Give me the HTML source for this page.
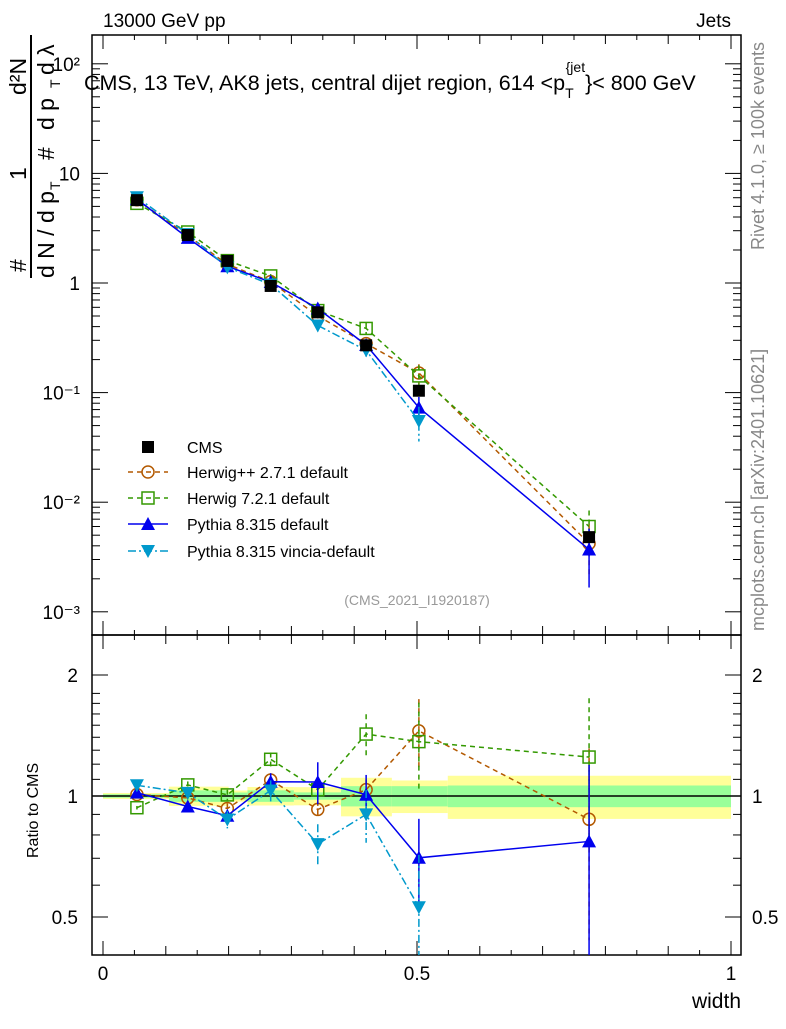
<!DOCTYPE html>
<html><head><meta charset="utf-8"><style>
body{margin:0;background:#fff;width:786px;height:1024px;overflow:hidden}
svg text{font-family:"Liberation Sans",sans-serif}
</style></head><body>
<svg id="c" width="786" height="1024" xmlns="http://www.w3.org/2000/svg">
<defs>
<clipPath id="cm"><rect x="92" y="35" width="649" height="600"/></clipPath>
<clipPath id="cr"><rect x="92" y="635" width="649" height="320"/></clipPath>
</defs>
<g id="bands" clip-path="url(#cr)"></g>
<g id="frames"></g>
<g id="series"></g>
<g id="labels"></g>
<text x="84" y="90" font-size="21.5">CMS, 13 TeV, AK8 jets, central dijet region, 614 &lt;p<tspan font-size="14" dy="8">T</tspan><tspan font-size="14" dy="-26" dx="-8">{jet</tspan><tspan dy="18">}&lt; 800 GeV</tspan></text>
<g font-size="23">
<text transform="translate(26,272) rotate(-90)">#</text>
<text transform="translate(26,180) rotate(-90)">1</text>
<line x1="31" x2="31" y1="35" y2="278" stroke="#000" stroke-width="2"/>
<text transform="translate(54,278) rotate(-90)">d N / d p</text>
<text transform="translate(60,190) rotate(-90)" font-size="14">T</text>
<text transform="translate(54,160) rotate(-90)">#</text>
<text transform="translate(26,95) rotate(-90)">d²N</text>
<text transform="translate(54,130) rotate(-90)">d p</text>
<text transform="translate(60,88) rotate(-90)" font-size="14">T</text>
<text transform="translate(54,75) rotate(-90)">d λ</text>
</g>
</svg>
<script>
// data
const xs = [0.054, 0.135, 0.198, 0.267, 0.342, 0.419, 0.503, 0.774];
const cms = [5.7, 2.74, 1.59, 0.94, 0.54, 0.27, 0.104, 0.0048];
const cmsErr = [0.01, 0.01, 0.01, 0.02, 0.03, 0.04, 0.05, 0.1];
const hpp = [5.75, 2.71, 1.48, 1.03, 0.50, 0.28, 0.151, 0.0042];
const hppErr = [0.01, 0.02, 0.03, 0.03, 0.05, 0.06, 0.2, 0.5];
const h7 = [5.33, 2.92, 1.60, 1.16, 0.56, 0.385, 0.142, 0.006];
const h7Err = [0.01, 0.02, 0.03, 0.04, 0.05, 0.12, 0.25, 0.4];
const py = [5.81, 2.58, 1.42, 1.02, 0.585, 0.272, 0.073, 0.0037];
const pyErr = [0.01, 0.03, 0.03, 0.05, 0.12, 0.12, 0.25, 0.55];
const vin = [6.06, 2.79, 1.39, 0.97, 0.41, 0.243, 0.055];
const vinErr = [0.01, 0.02, 0.05, 0.06, 0.12, 0.15, 0.35];
const bandEdges = [0, 0.105, 0.2, 0.23, 0.304, 0.379, 0.46, 0.549, 1.0];
const bandYellow = [0.017, 0.055, 0.032, 0.053, 0.052, 0.11, 0.093, 0.123];
const bandGreen = [0.01, 0.033, 0.02, 0.033, 0.021, 0.058, 0.058, 0.062];
const mainTicks = [100, 10, 1, 0.1, 0.01, 0.001];
const mainTickLabels = ["10²", "10", "1", "10⁻¹", "10⁻²", "10⁻³"];
const ratioTicks = [0.5, 1, 2];
const xTicks = [0, 0.5, 1];

const NS = "http://www.w3.org/2000/svg";
const X = v => 103 + v * 628;
const YM = v => 283 - Math.log10(v) * 109.6;
const YR = v => 796 - Math.log2(v) * 121;
function mk(tag, attrs, parent, txt) {
  const e = document.createElementNS(NS, tag);
  for (const k in attrs) e.setAttribute(k, attrs[k]);
  if (txt !== undefined) e.textContent = txt;
  parent.appendChild(e);
  return e;
}
const G = id => document.getElementById(id);

// bands
const gb = G('bands');
for (let i = 0; i < bandYellow.length; i++) {
  const x0 = X(bandEdges[i]), x1 = X(bandEdges[i + 1]);
  let r = mk('rect', {x: x0, y: YR(1 + bandYellow[i]), width: x1 - x0, height: YR(1 - bandYellow[i]) - YR(1 + bandYellow[i]), fill: '#ffff99'}, gb);
  
  
  r = mk('rect', {x: x0, y: YR(1 + bandGreen[i]), width: x1 - x0, height: YR(1 - bandGreen[i]) - YR(1 + bandGreen[i]), fill: '#99ff99'}, gb);
  
  
}
let ln = mk('line', {x1: 92, x2: 741, y1: YR(1), y2: YR(1), stroke: '#000', 'stroke-width': 1.5}, gb);



// frames + ticks
const gf = G('frames');
for (const [y0, y1, nm] of [[35, 635, 'main-plot-frame'], [635, 955, 'ratio-plot-frame']]) {
  const f = mk('rect', {x: 92, y: y0, width: 649, height: y1 - y0, fill: 'none', stroke: '#000', 'stroke-width': 1.5}, gf);
  
  
  for (let k = 0; k <= 20; k++) {
    const v = k * 0.05, len = (k % 10 === 0) ? 14 : (k % 2 === 0 ? 9 : 5);
    mk('line', {x1: X(v), x2: X(v), y1: y1, y2: y1 - len, stroke: '#000'}, gf);
    mk('line', {x1: X(v), x2: X(v), y1: y0, y2: y0 + len, stroke: '#000'}, gf);
  }
}
for (let d = -3; d <= 2; d++) {
  for (let m = 1; m <= 9; m++) {
    const v = m * Math.pow(10, d), y = YM(v);
    if (y < 35 || y > 635) continue;
    const len = m === 1 ? 16 : 8;
    mk('line', {x1: 92, x2: 92 + len, y1: y, y2: y, stroke: '#000'}, gf);
    mk('line', {x1: 741, x2: 741 - len, y1: y, y2: y, stroke: '#000'}, gf);
  }
}
for (const v of [0.4, 0.5, 0.6, 0.7, 0.8, 0.9, 1, 2, 3]) {
  const y = YR(v);
  if (y < 635 || y > 955) continue;
  const len = ratioTicks.includes(v) ? 16 : 8;
  mk('line', {x1: 92, x2: 92 + len, y1: y, y2: y, stroke: '#000'}, gf);
  mk('line', {x1: 741, x2: 741 - len, y1: y, y2: y, stroke: '#000'}, gf);
}
for (let k = 1; k <= 8; k++) {
  const v = 1 + k * 0.1;
  const y = YR(v);
  mk('line', {x1: 92, x2: 100, y1: y, y2: y, stroke: '#000'}, gf);
  mk('line', {x1: 741, x2: 733, y1: y, y2: y, stroke: '#000'}, gf);
}

// labels
const gl = G('labels');
function lab(x, y, t, nm, opts) {
  const e = mk('text', Object.assign({x: x, y: y, 'font-size': 19, fill: '#000'}, opts || {}), gl, t);
  
  
  return e;
}
mainTicks.forEach((v, i) => lab(80, YM(v) + 7, mainTickLabels[i], 'y-tick-label', {'text-anchor': 'end'}));
ratioTicks.forEach(v => {
  lab(78, YR(v) + 7, String(v), 'ratio-y-tick-label', {'text-anchor': 'end'});
  lab(752, YR(v) + 7, String(v), 'ratio-y-tick-label-right');
});
xTicks.forEach(v => lab(X(v), 980, String(v), 'x-tick-label', {'text-anchor': 'middle'}));
lab(741, 1008, 'width', 'x-axis-title', {'text-anchor': 'end', 'font-size': 21});
lab(103, 27, '13000 GeV pp', 'header-left');
lab(731, 27, 'Jets', 'header-right', {'text-anchor': 'end'});
lab(417, 605, '(CMS_2021_I1920187)', 'analysis-id', {'text-anchor': 'middle', 'font-size': 14, fill: '#999'});
lab(0, 0, 'Rivet 4.1.0, ≥ 100k events', 'rivet-version', {transform: 'translate(764,250) rotate(-90)', 'font-size': 18, fill: '#888'});
lab(0, 0, 'mcplots.cern.ch [arXiv:2401.10621]', 'mcplots-credit', {transform: 'translate(764,631) rotate(-90)', 'font-size': 18, fill: '#888'});
lab(0, 0, 'Ratio to CMS', 'ratio-y-axis-title', {transform: 'translate(38,858) rotate(-90)', 'font-size': 16});

// series
const gs = G('series');
function marker(g, type, x, y, col) {
  const s = 6;
  if (type === 'sq') mk('rect', {x: x - s, y: y - s, width: 2 * s, height: 2 * s, fill: '#000'}, g);
  if (type === 'osq') mk('rect', {x: x - s, y: y - s, width: 2 * s, height: 2 * s, fill: 'none', stroke: col, 'stroke-width': 1.5}, g);
  if (type === 'oc') mk('circle', {cx: x, cy: y, r: s, fill: 'none', stroke: col, 'stroke-width': 1.5}, g);
  if (type === 'tu') mk('polygon', {points: `${x},${y - 7} ${x - 7},${y + 6} ${x + 7},${y + 6}`, fill: col}, g);
  if (type === 'td') mk('polygon', {points: `${x},${y + 7} ${x - 7},${y - 6} ${x + 7},${y - 6}`, fill: col}, g);
}
function drawSeries(name, vals, errs, col, dash, mtype) {
  for (const [Yf, clip, sfx] of [[YM, 'cm', 'main'], [YR, 'cr', 'ratio']]) {
    const g = mk('g', {'clip-path': `url(#${clip})`}, gs);
    
    
    const v = vals.map((d, i) => sfx === 'main' ? d : d / cms[i]);
    const pts = v.map((d, i) => `${X(xs[i])},${Yf(d)}`).join(' ');
    mk('polyline', {points: pts, fill: 'none', stroke: col, 'stroke-width': 1.5, 'stroke-dasharray': dash}, g);
    v.forEach((d, i) => {
      const x = X(xs[i]);
      const lo = Math.max(d * (1 - errs[i]), d * 0.001);
      mk('line', {x1: x, x2: x, y1: Yf(d * (1 + errs[i])), y2: Yf(lo), stroke: col, 'stroke-width': 1.5, 'stroke-dasharray': dash}, g);
      marker(g, mtype, x, Yf(d), col);
    });
  }
}
drawSeries('herwigpp-series', hpp, hppErr, '#b35900', '5,4', 'oc');
drawSeries('herwig7-series', h7, h7Err, '#339900', '5,4', 'osq');
drawSeries('pythia-series', py, pyErr, '#0000ee', '', 'tu');
drawSeries('vincia-series', vin, vinErr, '#0099cc', '8,3,2,3', 'td');
(function () {
  const g = mk('g', {'clip-path': 'url(#cm)'}, gs);
  
  
  cms.forEach((d, i) => {
    const x = X(xs[i]);
    mk('line', {x1: x, x2: x, y1: YM(d * (1 + cmsErr[i])), y2: YM(d * (1 - cmsErr[i])), stroke: '#000'}, g);
    marker(g, 'sq', x, YM(d), '#000');
  });
})();

// legend
const leg = [['CMS', '#000', '', 'sq'], ['Herwig++ 2.7.1 default', '#b35900', '5,4', 'oc'], ['Herwig 7.2.1 default', '#339900', '5,4', 'osq'], ['Pythia 8.315 default', '#0000ee', '', 'tu'], ['Pythia 8.315 vincia-default', '#0099cc', '8,3,2,3', 'td']];
const legY = [447, 472, 498, 524, 551];
leg.forEach((L, i) => {
  const g = mk('g', {}, gl);
  
  
  const y = legY[i];
  if (L[0] !== 'CMS') mk('line', {x1: 128, x2: 168, y1: y, y2: y, stroke: L[1], 'stroke-width': 1.5, 'stroke-dasharray': L[2]}, g);
  marker(g, L[3], 148, y, L[1]);
  mk('text', {x: 187, y: y + 6, 'font-size': 16}, g, L[0]);
});
</script>
</body></html>
